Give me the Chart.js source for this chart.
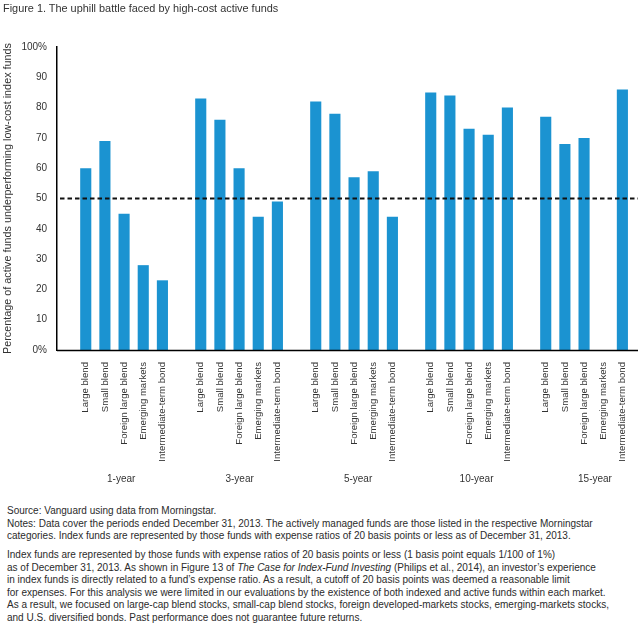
<!DOCTYPE html>
<html>
<head>
<meta charset="utf-8">
<script src="https://cdn.jsdelivr.net/npm/chart.js@4"></script>
<style>
  html, body { margin: 0; padding: 0; background: #fff; }
  body { width: 638px; height: 634px; position: relative; overflow: hidden; font-family: "Liberation Sans", Arial, sans-serif; color: #333; }
  #wrap { position: absolute; left: 0; top: 0; width: 638px; height: 500px; }
  .t { position: absolute; white-space: nowrap; font-size: 10px; line-height: 12.5px; color: #2b2b2b; }
  #title { left: 3px; top: 2px; font-size: 10.9px; color: #333; }
</style>
</head>
<body>
<div id="wrap"><canvas id="c" width="638" height="500"></canvas></div>
<div class="t" id="title">Figure 1. The uphill battle faced by high-cost active funds</div>
<div class="t" style="left:7px; top:505px;">Source: Vanguard using data from Morningstar.<br>Notes: Data cover the periods ended December 31, 2013. The actively managed funds are those listed in the respective Morningstar<br>categories. Index funds are represented by those funds with expense ratios of 20 basis points or less as of December 31, 2013.</div>
<div class="t" style="left:7px; top:549px;">Index funds are represented by those funds with expense ratios of 20 basis points or less (1 basis point equals 1/100 of 1%)<br>as of December 31, 2013. As shown in Figure 13 of <i>The Case for Index-Fund Investing</i> (Philips et al., 2014), an investor’s experience<br>in index funds is directly related to a fund’s expense ratio. As a result, a cutoff of 20 basis points was deemed a reasonable limit<br>for expenses. For this analysis we were limited in our evaluations by the existence of both indexed and active funds within each market.<br>As a result, we focused on large-cap blend stocks, small-cap blend stocks, foreign developed-markets stocks, emerging-markets stocks,<br>and U.S. diversified bonds. Past performance does not guarantee future returns.</div>
<script>
// ---- data ----
const fundCategories = ["Large blend", "Small blend", "Foreign large blend", "Emerging markets", "Intermediate-term bond"];
const periods = ["1-year", "3-year", "5-year", "10-year", "15-year"];
const oneYear     = [60, 69, 45, 28, 23];
const threeYear   = [83, 76, 60, 44, 49];
const fiveYear    = [82, 78, 57, 59, 44];
const tenYear     = [85, 84, 73, 71, 80];
const fifteenYear = [77, 68, 70, null, 86];
const threshold = 50;
const yTicks = [0, 10, 20, 30, 40, 50, 60, 70, 80, 90, 100];

// ---- build category axis: leading blank, groups separated by a blank slot ----
const seriesByPeriod = [oneYear, threeYear, fiveYear, tenYear, fifteenYear];
const labels = [""];
const values = [null];
const groupCenters = [];
seriesByPeriod.forEach((vals, gi) => {
  if (gi > 0) { labels.push(""); values.push(null); }
  fundCategories.forEach((cat, ci) => {
    if (ci === 2) groupCenters.push({ index: labels.length, text: periods[gi], gi: gi });
    labels.push(cat);
    values.push(vals[ci]);
  });
});

const FONT = "'Liberation Sans', Arial, sans-serif";

const overlay = {
  id: 'overlay',
  afterDatasetsDraw(chart) {
    const { ctx, chartArea, scales } = chart;
    const W = chart.width;
    ctx.save();
    // x-axis baseline
    ctx.strokeStyle = '#000';
    ctx.lineWidth = 1.5;
    ctx.beginPath();
    ctx.moveTo(chartArea.left, chartArea.bottom + 0.5);
    ctx.lineTo(W, chartArea.bottom + 0.5);
    ctx.stroke();
    // dashed 50% line
    const y = scales.y.getPixelForValue(threshold);
    ctx.setLineDash([4.5, 3]);
    ctx.lineWidth = 2;
    ctx.strokeStyle = '#111';
    ctx.beginPath();
    ctx.moveTo(chartArea.left + 3, y);
    ctx.lineTo(W, y);
    ctx.stroke();
    ctx.setLineDash([]);
    // period labels (slightly drifting right as in the original layout)
    ctx.fillStyle = '#333';
    ctx.font = "10px " + FONT;
    ctx.textAlign = 'center';
    ctx.textBaseline = 'middle';
    groupCenters.forEach(g => {
      ctx.fillText(g.text, scales.x.getPixelForValue(g.index - 0.15 + 0.18 * g.gi), 479);
    });
    ctx.restore();
  }
};

new Chart(document.getElementById('c'), {
  type: 'bar',
  data: {
    labels: labels,
    datasets: [{
      data: values,
      backgroundColor: '#1b93d1',
      borderWidth: 0,
      categoryPercentage: 1.0,
      barPercentage: 0.58
    }]
  },
  options: {
    responsive: false,
    animation: false,
    devicePixelRatio: 1,
    layout: { padding: { top: 47, right: 5.5, left: 0, bottom: 0 } },
    plugins: { legend: { display: false }, tooltip: { enabled: false } },
    scales: {
      x: {
        grid: { display: false },
        border: { display: false },
        ticks: {
          autoSkip: false,
          minRotation: 90,
          maxRotation: 90,
          padding: 4,
          color: '#333',
          font: { family: FONT, size: 9.6 }
        },
        afterFit(s) { s.height = 150; }
      },
      y: {
        min: 0,
        max: 100,
        afterBuildTicks(s) { s.ticks = yTicks.map(v => ({ value: v })); },
        grid: { display: false, drawTicks: false },
        border: { display: true, color: '#000', width: 1.5 },
        ticks: {
          padding: 10,
          color: '#333',
          font: { family: FONT, size: 10 },
          callback: v => (v === 0 || v === 100) ? v + '%' : String(v)
        },
        title: {
          display: true,
          text: 'Percentage of active funds underperforming low-cost index funds',
          color: '#333',
          font: { family: FONT, size: 10.8 },
          padding: { top: 2, bottom: 0 }
        },
        afterFit(s) { s.width = 57; }
      }
    }
  },
  plugins: [overlay]
});
</script>
</body>
</html>
